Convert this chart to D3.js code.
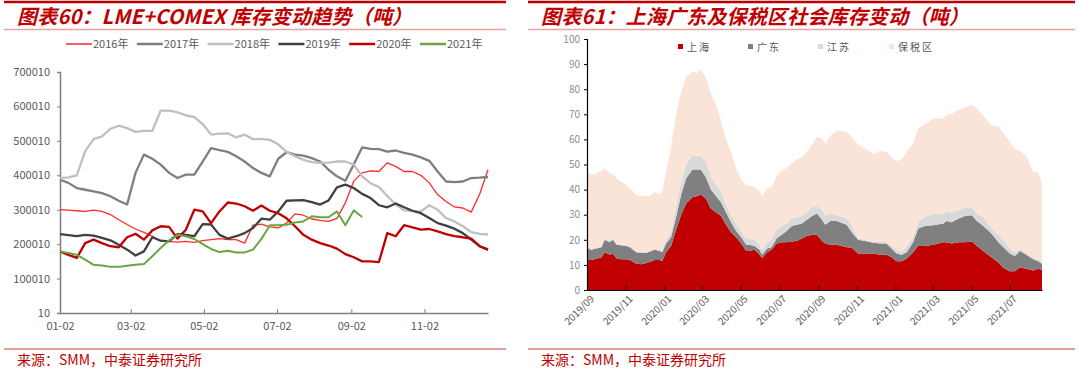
<!DOCTYPE html>
<html>
<head>
<meta charset="utf-8">
<script src="https://cdn.jsdelivr.net/npm/d3@7/dist/d3.min.js"></script>
<style>
  body { margin: 0; background: #fff; }
  text { font-family: "Noto Sans CJK SC", "Noto Sans", sans-serif; }
</style>
</head>
<body>
<svg id="chart" width="1080" height="374"></svg>
<script>
// ---- left chart: LME+COMEX weekly stocks (tons, in thousands) ----
const yearNames = ["2016年", "2017年", "2018年", "2019年", "2020年", "2021年"];
const y2016 = [300,299,297,295,299,295,286,271,257,244,234,223,210,208,206,208,205,210,213,216,213,213,203,255,258,250,247,261,288,284,273,269,266,275,320,383,407,413,411,436,426,411,411,400,378,344,324,308,305,293,345,416];
const y2017 = [387,378,363,358,353,348,339,326,315,407,460,448,431,407,392,402,402,440,479,473,468,455,440,421,407,397,448,467,460,457,450,440,416,397,384,431,481,477,476,469,472,465,460,452,442,411,382,380,382,392,393,395];
const y2018 = [392,394,400,470,505,513,535,544,537,526,529,529,588,588,583,574,569,549,518,521,522,510,518,505,506,503,490,468,455,445,438,436,437,440,440,431,397,377,366,340,315,298,296,295,313,300,276,266,252,235,230,228];
const y2019 = [229,226,223,227,225,218,211,198,184,167,179,220,210,208,229,227,223,258,257,227,216,223,232,247,274,271,295,326,327,328,322,315,327,365,373,363,346,334,313,307,318,307,297,290,276,261,254,245,232,213,194,184];
const y2020 = [179,169,160,203,213,203,194,191,220,230,213,240,252,250,216,242,300,295,261,295,321,318,310,297,312,297,290,275,252,227,213,203,196,187,171,162,150,150,148,232,223,255,249,242,244,237,229,223,220,216,194,184];
const y2021 = [179,174,169,155,140,138,134,134,137,140,142,165,189,211,227,223,215,200,186,177,181,176,176,184,215,255,255,256,263,266,281,278,278,295,255,298,279];
const leftTicks = ["01-02", "03-02", "05-02", "07-02", "09-02", "11-02"];
const leftYTicks = [10, 100010, 200010, 300010, 400010, 500010, 600010, 700010];

// ---- right chart: social inventory (10k tons) ----
const regionNames = ["上海", "广东", "江苏", "保税区"];
const rDates = ["2019-09-01","2019-09-08","2019-09-16","2019-09-24","2019-09-29","2019-10-07","2019-10-12","2019-10-18","2019-10-25","2019-11-02","2019-11-08","2019-11-18","2019-11-26","2019-12-04","2019-12-12","2019-12-17","2019-12-25","2019-12-29",
  "2020-01-04","2020-01-12","2020-01-20","2020-01-28","2020-02-05","2020-02-15","2020-02-23","2020-02-28","2020-03-07","2020-03-15","2020-03-23","2020-03-31","2020-04-08","2020-04-16","2020-04-24","2020-05-02","2020-05-10","2020-05-15","2020-05-23","2020-05-31","2020-06-04","2020-06-12","2020-06-19","2020-06-27","2020-07-05","2020-07-13","2020-07-21","2020-07-29","2020-08-06","2020-08-14",
  "2020-08-22","2020-08-30","2020-09-07","2020-09-12","2020-09-20","2020-09-30","2020-10-16","2020-10-24","2020-11-03","2020-11-14","2020-11-27","2020-12-08","2020-12-18","2020-12-26","2021-01-03","2021-01-11","2021-01-19","2021-01-29","2021-02-06","2021-02-17","2021-03-02","2021-03-18","2021-03-23","2021-03-31","2021-04-11","2021-04-21","2021-05-02","2021-05-10","2021-05-20","2021-06-02","2021-06-13","2021-06-21","2021-07-01","2021-07-09","2021-07-17","2021-07-27","2021-08-07","2021-08-15","2021-08-21"];
const shanghai = [12.3,12,12.5,13,15,14,14.5,12.5,12.3,12.3,12,10.5,10.3,10.8,11.5,12,12,11.5,
  15,17.5,24,30,34.5,37,37.5,38,36.5,32.5,31,29.5,26,23,21,18.5,15.5,15.5,16,14,12.7,15,16,18.5,19,19,19.3,19.5,20.5,21.5,
  22,22,19.5,18.5,18,18,17,16.8,14.5,14.5,14.5,14,14,13,11.5,11.5,12.5,15,17.5,17.5,18,19,19,18.5,19,19,19.3,17.5,15.5,13,11,8.8,7.5,7.5,9,8.5,7.8,8.5,8];
const guangdong = [4.2,4,4,4,5,5,5.5,5.5,5.5,5.2,5,4.5,4.5,4,4,4,3.5,3.5,
  3.5,3.5,5,8,10,11,10.5,10,8.5,7.5,6.5,5.5,5,4,2.5,2.5,2.5,2.5,1.5,2,1.3,1.5,1,2,3,4.5,6.2,6.5,6,6.5,
  7.5,8.5,8.5,7.5,9.5,9.5,9,6.2,5.5,5,4.3,4.5,4.5,3.5,3,2.5,2.5,4,7,8,7.8,7.5,8.5,8.5,9.5,10.5,10.5,10,10,9.5,8,8.2,7,6,6.5,5.5,4.5,3,2.5];
const jiangsu = [0.5,0.5,0.5,0.5,0.3,0.8,0.5,0.3,0.2,0.5,0.3,0.3,0.2,0.2,0.5,0.5,0.5,0.5,
  1.5,2,4,5,5.5,5.7,5.3,5.7,6,5,4.5,4,3,3,3,2.5,2.3,2.3,2.5,2,2,2.5,3,3.5,3.5,3,3,3,3,3,
  3.5,3,3.9,3.6,3,2.4,2.5,2.9,0.6,0.4,0.5,0.8,0.8,1,1.4,1.3,2.3,2.2,2.7,3.7,4.5,4,3.7,3.8,3.4,3.3,3.1,3,3.5,2.1,2.9,2.7,2.1,1.4,0.7,0.6,0.6,0.7,0.5];
const bonded = [30.5,29.5,29.5,30,28.2,26.7,25.5,26.2,25,24,23.2,22.5,22.5,22.2,22,22.5,22,23.5,
  27,34,37,36,35,33.3,33.2,34.3,33.5,33.3,32,28.5,26,25,22,20.5,21.2,21.2,21,21.5,21.3,21.5,21,21.5,22,22,22,23,23.5,24,
  25,27.5,28.5,28.8,30.9,33.4,34.5,35.1,37.2,36.5,34.9,36.1,35.8,35.2,35.5,36.7,37.8,37.2,37.2,36.8,38,37.9,38.5,39.3,39.8,40,40.8,41.9,40.3,41.1,43.2,42.7,42.5,41.3,39.3,38.8,34.2,34.7,31.2];

var svg = d3.select("#chart");
var red = "#C00000";

// panel frames: top rule, title, thin rule, bottom rule, source
function frame(x0, x1, title) {
    svg.append("line").attr("x1", x0).attr("x2", x1).attr("y1", 2).attr("y2", 2)
        .attr("stroke", red).attr("stroke-width", 2.5);
    svg.append("line").attr("x1", x0).attr("x2", x1).attr("y1", 29.5).attr("y2", 29.5)
        .attr("stroke", "#E8A3A3").attr("stroke-width", 1.5);
    svg.append("text").attr("x", x0 + 13).attr("y", 24)
        .attr("fill", red).attr("font-size", 20).attr("font-weight", "bold")
        .attr("letter-spacing", 0.2)
        .attr("font-style", "italic").text(title);
    svg.append("line").attr("x1", x0).attr("x2", x1).attr("y1", 349).attr("y2", 349)
        .attr("stroke", "#E07C7C").attr("stroke-width", 1.5);
    svg.append("text").attr("x", x0 + 13).attr("y", 365)
        .attr("fill", red).attr("font-size", 14).text("来源：SMM，中泰证券研究所");
}
frame(4, 506, "图表60：LME+COMEX 库存变动趋势（吨）");
frame(528, 1075, "图表61：上海广东及保税区社会库存变动（吨）");

// ================= left chart =================
var t0 = new Date(2021, 0, 2);
var weekDate = i => d3.timeDay.offset(t0, 7 * i);
var xL = d3.scaleTime().domain([t0, new Date(2021, 11, 25)]).range([60, 488]);
var yL = d3.scaleLinear().domain([10, 700010]).range([313, 72]);

var leftSeries = [
    {name: yearNames[0], vals: y2016, color: "#FF2A2A", w: 1.3},
    {name: yearNames[1], vals: y2017, color: "#7F7F7F", w: 2.3},
    {name: yearNames[2], vals: y2018, color: "#BFBFBF", w: 2.3},
    {name: yearNames[3], vals: y2019, color: "#404040", w: 2.3},
    {name: yearNames[4], vals: y2020, color: "#C00000", w: 2.3},
    {name: yearNames[5], vals: y2021, color: "#6AA543", w: 2}
];

var gyL = svg.append("g").attr("transform", "translate(60,0)")
    .call(d3.axisLeft(yL).tickValues(leftYTicks).tickSize(3).tickPadding(7).tickFormat(d3.format("d")));
var gxL = svg.append("g").attr("transform", "translate(0,313)")
    .call(d3.axisBottom(xL)
        .tickValues(leftTicks.map(s => d3.timeParse("%Y-%m-%d")("2021-" + s)))
        .tickFormat(d3.timeFormat("%m-%d")).tickSizeInner(-4).tickSizeOuter(0).tickPadding(9));
[gyL, gxL].forEach(g => {
    g.select(".domain").attr("stroke", "#7F7F7F").attr("stroke-width", 1.5);
    g.selectAll(".tick line").attr("stroke", "#7F7F7F");
    g.selectAll("text").attr("fill", "#595959").attr("font-size", 11)
        .style("font-family", "'Noto Sans CJK SC', sans-serif");
});

var lineL = d3.line().x((d, i) => xL(weekDate(i))).y(d => yL(d * 1000));
leftSeries.forEach(s => {
    svg.append("path").datum(s.vals).attr("d", lineL)
        .attr("fill", "none").attr("stroke", s.color).attr("stroke-width", s.w)
        .attr("stroke-linejoin", "round");
});

// legend
leftSeries.forEach((s, i) => {
    var lx = 66 + i * 70.8;
    svg.append("line").attr("x1", lx).attr("x2", lx + 26).attr("y1", 44).attr("y2", 44)
        .attr("stroke", s.color).attr("stroke-width", s.w < 2 ? 1.5 : 2.5);
    svg.append("text").attr("x", lx + 27).attr("y", 48).attr("font-size", 11)
        .attr("fill", "#595959").text(s.name);
});

// ================= right chart =================
var parse = d3.timeParse("%Y-%m-%d");
var rows = rDates.map((d, i) => ({date: parse(d), 上海: shanghai[i], 广东: guangdong[i], 江苏: jiangsu[i], 保税区: bonded[i]}));
var xR = d3.scaleTime().domain([parse("2019-09-01"), parse("2021-08-21")]).range([587, 1042]);
var yR = d3.scaleLinear().domain([0, 100]).range([290, 39]);
var areaColors = ["#C00000", "#808080", "#D9D9D9", "#FAE4D7"];

var stacked = d3.stack().keys(regionNames)(rows);
var area = d3.area().x(d => xR(d.data.date)).y0(d => yR(d[0])).y1(d => yR(d[1]));
svg.append("g").selectAll("path").data(stacked).join("path")
    .attr("d", area).attr("fill", (d, i) => areaColors[i]);

var rTicks = d3.timeMonth.every(2).range(parse("2019-09-01"), parse("2021-08-01"));
var gxR = svg.append("g").attr("transform", "translate(0,290)")
    .call(d3.axisBottom(xR).tickValues(rTicks).tickFormat(d3.timeFormat("%Y/%m"))
        .tickSizeInner(-4).tickSizeOuter(0));
gxR.selectAll("text").attr("x", 0).attr("y", 0).attr("dy", "0.35em")
    .attr("transform", "translate(5,7) rotate(-45)").style("text-anchor", "end")
    .attr("fill", "#595959").attr("font-size", 10);
var gyR = svg.append("g").attr("transform", "translate(587,0)")
    .call(d3.axisLeft(yR).ticks(10).tickSize(3).tickPadding(4));
gyR.selectAll("text").attr("fill", "#8C8C8C").attr("font-size", 10);
[gxR, gyR].forEach(g => {
    g.select(".domain").attr("stroke", "#000").attr("stroke-width", 1.2);
    g.selectAll(".tick line").attr("stroke", "#000");
    g.selectAll("text").style("font-family", "'Noto Sans CJK SC', sans-serif");
});

// legend
var legX = [678, 748, 818, 889];
regionNames.forEach((n, i) => {
    svg.append("rect").attr("x", legX[i]).attr("y", 44).attr("width", 5).attr("height", 5)
        .attr("fill", areaColors[i]);
    svg.append("text").attr("x", legX[i] + 9).attr("y", 51).attr("font-size", 10)
        .attr("letter-spacing", 2).attr("fill", "#595959").text(n);
});
</script>
</body>
</html>
